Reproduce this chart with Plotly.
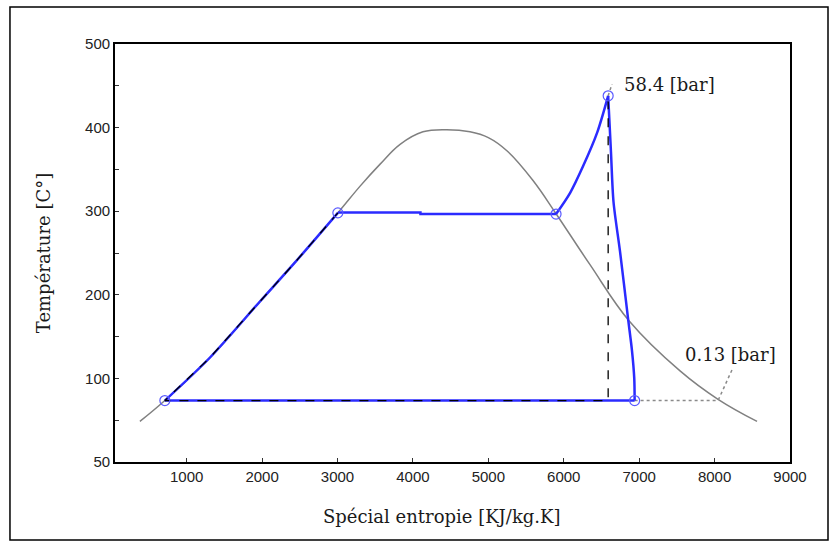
import plotly.graph_objects as go

# Saturation dome of water (T-s diagram)
dome_s = [380, 711, 1310, 1972, 2410, 3005, 3300, 3562, 3830, 4133, 4450, 4757,
          5000, 5250, 5590, 5898, 6348, 6865, 7542, 8046, 8563]
dome_t = [48.5, 73.5, 125, 192, 236, 298, 330, 356, 380, 395, 397.5, 395,
          388, 372, 337, 297, 236, 169, 109, 75, 48.5]

# Real Rankine cycle with superheat
pump_s = [711, 1310, 1972, 2410, 3005]
pump_t = [73.5, 125, 192, 236, 298]
boil_s = [3005, 4100, 4100, 5898]
boil_t = [298.5, 298.5, 296.6, 296.6]
sup_s = [5898, 6085, 6257, 6443, 6589]
sup_t = [296.6, 322, 354, 394, 438]
exp_s = [6589, 6626, 6660, 6746, 6852, 6905, 6935, 6940]
exp_t = [438, 371, 311, 252, 172, 133, 100, 73.5]
cond_s = [6940, 711]
cond_t = [73.5, 73.5]

# State points
state_s = [711, 3005, 5898, 6589, 6940]
state_t = [73.5, 298, 296.6, 438, 73.5]

# Ideal (isentropic) cycle, dashed
ideal_s = [3005, 2410, 1972, 1310, 711, 6589, 6589]
ideal_t = [298, 236, 192, 125, 73.5, 73.5, 438]

# Pressure label leaders
hp_lead_s = [6589, 6640]
hp_lead_t = [438, 452]
lp_lead_s = [6940, 8046, 8240]
lp_lead_t = [73.5, 73.5, 112]

x_ticks = [1000, 2000, 3000, 4000, 5000, 6000, 7000, 8000, 9000]
y_ticks = [0, 100, 200, 300, 400, 500]
y_tick_text = ["50", "100", "200", "300", "400", "500"]

BLUE = "#2b2bff"
GRAY = "#808080"

fig = go.Figure()
fig.add_trace(go.Scatter(x=dome_s, y=dome_t, mode="lines",
                         line=dict(color=GRAY, width=1.5, shape="spline", smoothing=1.1)))
fig.add_trace(go.Scatter(x=lp_lead_s, y=lp_lead_t, mode="lines",
                         line=dict(color="#8a8a8a", width=1.5, dash="dot")))
fig.add_trace(go.Scatter(x=hp_lead_s, y=hp_lead_t, mode="lines",
                         line=dict(color="#8a8a8a", width=1.5, dash="dot")))
for xs, ys, shp, sm in [(pump_s, pump_t, "spline", 0.8), (boil_s, boil_t, "linear", 0),
                        (sup_s, sup_t, "spline", 0.8), (exp_s, exp_t, "spline", 0.8),
                        (cond_s, cond_t, "linear", 0)]:
    fig.add_trace(go.Scatter(x=xs, y=ys, mode="lines",
                             line=dict(color=BLUE, width=2.5, shape=shp, smoothing=sm)))
fig.add_trace(go.Scatter(x=ideal_s, y=ideal_t, mode="lines",
                         line=dict(color="black", width=1.3, dash="dash")))
fig.add_trace(go.Scatter(x=state_s, y=state_t, mode="markers",
                         marker=dict(symbol="circle-open", size=10, color="#5a5aff",
                                     line=dict(color="#5a5aff", width=1.2))))

serif = "DejaVu Serif, serif"
fig.add_annotation(x=6589, y=438, text="58.4 [bar]", showarrow=False,
                   xanchor="left", yanchor="middle", xshift=14, yshift=11,
                   font=dict(family=serif, size=18, color="#1a1a1a"))
fig.add_annotation(x=8240, y=112, text="0.13 [bar]", showarrow=False,
                   xanchor="center", yanchor="bottom", xshift=-2, yshift=1,
                   font=dict(family=serif, size=18, color="#1a1a1a"))
# x-axis title, set slightly left of the plot centre
fig.add_annotation(xref="paper", yref="paper", x=0.485, y=0, yshift=-54,
                   text="Spécial entropie [KJ/kg.K]", showarrow=False,
                   xanchor="center", yanchor="middle",
                   font=dict(family=serif, size=18, color="#1a1a1a"))

# outer figure frame
fig.add_shape(type="rect", xref="paper", yref="paper",
              x0=-0.1556, x1=1.0563, y0=-0.1866, y1=1.0885,
              line=dict(color="black", width=1.5), layer="below")

axis_common = dict(showline=True, linecolor="black", linewidth=1.8, mirror=True,
                   ticks="inside", ticklen=4, tickcolor="#333", showgrid=False,
                   zeroline=False,
                   tickfont=dict(family="Liberation Sans, Arial, sans-serif",
                                 size=15, color="#222"))

fig.update_layout(
    width=837, height=542,
    margin=dict(l=115, r=47, t=44, b=80, pad=0),
    paper_bgcolor="white", plot_bgcolor="white",
    showlegend=False,
    xaxis=dict(range=[50, 9000], tickvals=x_ticks, **axis_common),
    yaxis=dict(range=[0, 500], tickvals=y_ticks, ticktext=y_tick_text,
               minor=dict(ticks="inside", ticklen=4, dtick=50, tick0=0, tickcolor="#333"),
               title=dict(text="Température [C°]", standoff=30,
                          font=dict(family=serif, size=18, color="#1a1a1a")),
               **axis_common),
)

fig.write_html("out.html")
